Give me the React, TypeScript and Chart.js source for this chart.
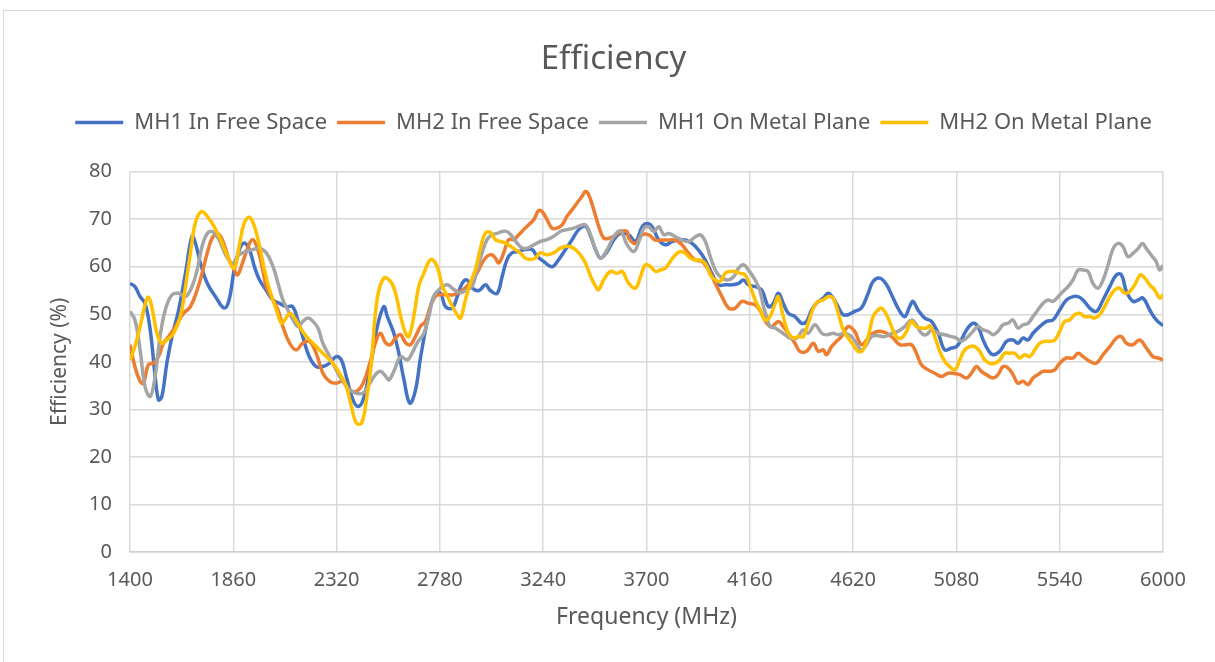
import React, { useEffect, useRef } from "react";
import { Chart, registerables } from "chart.js";

Chart.register(...registerables);

const chartTitle = "Efficiency";
const seriesNames = ["MH1 In Free Space", "MH2 In Free Space", "MH1 On Metal Plane", "MH2 On Metal Plane"];
const seriesColors = ["#4472C4", "#ED7D31", "#A5A5A5", "#FFC000"];
const xTickValues = [1400, 1860, 2320, 2780, 3240, 3700, 4160, 4620, 5080, 5540, 6000];
const yTickStep = 10;

const mh1FreeFreq = [1400,1422,1445,1467,1490,1512,1527,1542,1564,1587,1617,1647,1676,1691,1714,1744,1781,1819,1841,1864,1887,1909,1932,1954,1977,2007,2037,2066,2096,2124,2147,2169,2199,2229,2259,2289,2318,2341,2363,2393,2416,2438,2468,2498,2530,2546,2575,2597,2620,2646,2671,2694,2716,2738,2761,2783,2805,2835,2857,2879,2901,2924,2954,2983,3005,3035,3057,3079,3101,3131,3160,3190,3213,3242,3279,3309,3339,3369,3398,3428,3451,3473,3495,3525,3555,3584,3621,3651,3681,3703,3725,3755,3784,3814,3843,3873,3903,3932,3962,3991,4021,4051,4080,4110,4132,4154,4184,4213,4243,4265,4287,4309,4332,4361,4391,4413,4435,4457,4487,4509,4531,4553,4575,4598,4627,4657,4687,4709,4739,4769,4798,4828,4850,4872,4887,4909,4939,4969,4999,5028,5058,5080,5102,5125,5154,5176,5199,5221,5243,5273,5303,5332,5354,5377,5399,5421,5451,5481,5510,5540,5570,5599,5622,5644,5674,5703,5733,5763,5793,5815,5837,5866,5889,5911,5941,5970,6000];
const mh1FreeVals = [56.5,55.8,53.7,52.3,46.7,37,32,32.7,39.7,45.3,51,58.6,66.4,65,60.7,56.5,53.7,51.3,53,59.4,63.6,65,63.6,60,57.2,55,53,52.3,51.6,51.6,48.8,45.3,41,39,39,39.7,41.1,40.4,36.9,32,30.6,32,38.3,46.7,51.6,49.5,46,41.8,36.2,31.3,34,41,46.7,51.6,54.4,54.4,51.6,51.3,53.7,56.5,57.2,55.5,55,56.2,55,54.4,57.9,61.5,62.9,63.2,63.6,63.6,62.2,61.1,60,61.5,63.6,65.7,67.8,68.5,66.4,63.6,61.8,63.2,65.7,67,66.7,65.3,68.4,69.1,68.4,65.6,64.6,65.3,65.6,65.6,64.9,63.5,61.4,58.6,56.2,56.2,56.2,56.5,57.2,56.2,55.8,55.1,51.6,52.3,54.4,52.3,50.2,49.5,48.1,48.5,50.9,52.3,53.4,54.4,53.4,51.6,49.9,49.9,50.6,51.3,54.4,56.9,57.6,56.2,53.4,50.6,49.5,51.6,52.7,50.9,49.2,48.5,46,42.5,42.9,43.2,44.6,46.7,48.1,47.4,44.6,42.5,41.5,42.2,44.3,44.6,43.9,45,44.6,46,47.4,48.5,48.8,50.9,53,53.7,53.7,53,51.3,50.6,53,55.8,58.3,58.3,54.8,52.7,53,53.4,50.9,48.8,47.6];

const mh2FreeFreq = [1400,1422,1445,1460,1482,1505,1527,1549,1572,1602,1639,1669,1699,1721,1744,1766,1789,1811,1841,1864,1879,1901,1924,1946,1969,1991,2007,2029,2059,2081,2111,2140,2169,2199,2229,2259,2289,2318,2348,2378,2408,2438,2468,2493,2515,2538,2560,2582,2605,2627,2649,2671,2694,2716,2738,2761,2783,2813,2842,2872,2901,2924,2946,2968,2990,3012,3027,3042,3064,3086,3109,3131,3153,3175,3198,3220,3235,3257,3279,3301,3324,3346,3369,3391,3413,3428,3443,3465,3487,3510,3532,3555,3584,3614,3621,3651,3681,3710,3740,3769,3799,3829,3858,3888,3918,3947,3977,4006,4036,4066,4095,4125,4154,4184,4213,4235,4258,4287,4309,4332,4361,4383,4413,4443,4465,4487,4502,4524,4546,4568,4598,4627,4657,4687,4709,4739,4769,4798,4828,4858,4880,4902,4924,4954,4984,5013,5043,5073,5095,5125,5147,5169,5191,5213,5243,5265,5288,5310,5332,5354,5377,5399,5421,5443,5466,5495,5518,5540,5570,5599,5622,5644,5674,5703,5733,5763,5793,5815,5837,5866,5896,5926,5955,5978,6000];
const mh2FreeVals = [43.6,39,35.9,35.5,39.4,39.7,41.1,43.9,45.3,47.4,50.2,51.6,55.1,58.6,62.9,66,67,65.7,61.5,59.4,58.3,60.8,63.9,65.7,63.6,59.4,55.8,53.7,50.9,47.4,43.9,42.5,43.9,44.3,41.8,37.6,35.9,35.5,35.9,34.1,33.8,35.5,39.7,44,46,44,43.6,45,45.7,44,43.6,45.3,47.5,48.5,51.7,53.8,54.1,54.1,54.1,54.8,55.9,57.3,58.7,60.8,62.2,62.5,61.8,60.8,62.9,65.7,65.7,66.7,67.8,68.8,69.9,71.8,71.6,69.9,68.1,68.1,68.8,70.6,72,73.4,74.8,75.8,75.1,72,68.5,66,66,66.4,67.4,67.4,66,64.9,66.7,66.7,65.6,65.6,65.6,65.6,64.6,62.8,61.4,61.1,59.3,56.5,53.7,51.3,51.3,52.7,52.3,52,50.2,48.1,47.4,48.5,47.4,46,43.9,42.2,42.2,43.9,42.2,42.5,41.5,43.2,44.3,45.3,47.4,46.4,43.6,45,46,46.4,46,45,43.6,43.6,43.6,41.8,39.4,38.3,37.6,36.9,37.6,37.5,37.3,36.6,37.6,39,38,37.3,36.6,37.3,39,38.7,37.3,35.5,35.9,35.2,36.6,37.3,38,38,38.3,39.7,40.8,40.8,41.8,41.1,40.1,39.7,41.5,43.2,45,45.3,43.9,43.6,44.6,42.9,41.1,40.8,40.4];

const mh1MetalFreq = [1400,1422,1445,1467,1490,1512,1534,1557,1587,1617,1647,1676,1699,1721,1744,1766,1796,1826,1856,1886,1916,1946,1976,2007,2037,2059,2081,2103,2126,2148,2170,2193,2215,2237,2259,2289,2318,2348,2378,2408,2438,2468,2493,2515,2538,2553,2575,2605,2634,2656,2679,2709,2731,2753,2783,2813,2842,2872,2901,2924,2946,2968,2990,3012,3035,3057,3079,3101,3123,3146,3168,3198,3227,3257,3287,3316,3346,3376,3398,3428,3451,3473,3495,3525,3555,3584,3614,3644,3666,3688,3710,3732,3755,3777,3799,3829,3858,3888,3918,3940,3962,3984,4006,4028,4058,4088,4110,4132,4154,4184,4206,4221,4235,4250,4273,4295,4317,4339,4369,4398,4420,4450,4480,4502,4531,4554,4583,4613,4635,4657,4679,4702,4731,4761,4791,4820,4850,4880,4902,4924,4947,4969,4999,5028,5058,5080,5102,5125,5154,5176,5199,5221,5243,5265,5288,5310,5332,5354,5377,5399,5421,5443,5466,5488,5510,5533,5555,5577,5599,5622,5644,5666,5688,5711,5733,5755,5778,5800,5822,5844,5866,5889,5908,5926,5948,5970,5985,6000];
const mh1MetalVals = [50.6,48.8,42.5,34.8,32.7,37,45.3,50.9,54.1,54.4,53.7,55.8,59.3,64.3,67,67.4,65.7,62.5,60.7,62.5,63.2,63.6,63.9,62.9,60,56.5,53,50.9,48.8,47.4,48.5,49.2,48.5,47.1,43.9,41.1,38.3,35.9,34.1,33.4,33.4,35.5,37.3,38,37,36.2,38,41.1,40.4,41.8,44,46,49.6,53.8,55.5,56.2,55.2,54.5,55.2,55.9,59.4,62.9,65.7,66.7,67,67.4,67.4,66.4,65,63.9,63.9,64.6,65.3,65.7,66.4,67.4,67.8,68.1,68.5,68.8,66.7,63.6,61.8,63.6,66.4,67.5,64.6,63.2,65.3,68.1,68.4,67.4,68.4,66.7,67,66.3,65.6,65.3,66.3,66.7,65.3,62.1,59.3,57.9,57.2,57.9,59.7,60.4,59.3,57.2,54.8,51.6,49.5,47.4,47.1,46.4,45.7,45,45,46.7,46,47.8,46,45.7,46,45.7,46,45.3,43.9,42.5,43.6,45.3,45.5,45.3,46,46.4,47.4,48.8,47.8,46,45.7,46.7,46,45.7,45.3,45,44.3,45,46.4,47.4,46.7,46.4,45.7,46.4,47.8,48.1,48.8,47.1,47.8,48.1,49.5,50.9,52.3,53,52.7,53.7,54.8,55.8,57.2,59.3,59.3,59,56.5,55.5,57.2,60.3,63.8,64.9,64.2,62.1,62.8,63.8,64.9,63.8,62.4,61,59.3,60.3];

const mh2MetalFreq = [1400,1422,1445,1467,1482,1497,1520,1542,1564,1594,1624,1647,1669,1691,1718,1744,1774,1804,1834,1864,1886,1909,1932,1954,1977,1999,2022,2052,2074,2089,2111,2133,2155,2185,2215,2244,2274,2304,2333,2363,2386,2408,2431,2453,2472,2500,2530,2560,2582,2605,2627,2642,2664,2686,2709,2731,2746,2768,2791,2813,2835,2857,2872,2894,2916,2938,2961,2983,3005,3027,3049,3072,3094,3116,3138,3160,3183,3205,3227,3257,3287,3316,3346,3376,3405,3428,3451,3473,3487,3510,3540,3569,3592,3621,3651,3673,3695,3718,3740,3762,3784,3806,3829,3851,3873,3895,3918,3940,3962,3984,4006,4028,4051,4073,4095,4117,4139,4162,4184,4206,4228,4250,4273,4287,4309,4332,4354,4376,4398,4420,4443,4465,4487,4509,4531,4554,4576,4598,4620,4642,4664,4687,4709,4731,4746,4769,4791,4813,4835,4858,4880,4902,4924,4947,4962,4984,5006,5028,5050,5073,5095,5117,5139,5162,5184,5206,5228,5251,5273,5295,5317,5340,5362,5384,5406,5429,5451,5473,5495,5518,5540,5562,5585,5607,5629,5651,5674,5696,5718,5740,5763,5785,5807,5830,5852,5874,5899,5919,5941,5963,5985,6000];
const mh2MetalVals = [40.4,43.2,47.4,52,53.6,51.6,46,43.9,44.6,46,49.5,55.8,62.9,69.2,71.6,70.6,68.5,65.7,62.2,59.7,64.3,69.2,70.4,68.5,64.3,59.3,55.1,50.9,48.1,48.8,50.2,49.2,47.4,45.3,43.9,42.5,41.1,39.7,37.6,34.8,30.6,27.1,27.1,32,38.5,53,57.6,56.9,54.5,49.6,46,45.3,49.6,55.9,58.7,61.1,61.5,60,55.9,53.8,51.7,49.9,49.2,53.1,56.6,59.4,63.9,67.1,67.2,65.7,65.3,65,64.3,63.6,62.9,61.8,61.5,61.8,62.9,62.5,62.9,63.9,64.3,63.9,62.5,60.8,58,55.9,55.2,57.3,59,58.6,59,56.5,55.5,57.9,60.4,60,59,59.3,59.7,61.1,62.5,63.2,62.8,61.8,61.4,61.4,60.7,58.3,57.2,56.9,58.6,59,59,58.6,58.3,55.8,53,50.9,48.8,49.5,52.3,53.7,49.5,46,45,45.3,45.3,48.1,51.3,52.7,53,53.7,53.4,50.2,46.7,45,43.6,42.2,42.5,45.3,49.5,50.9,51.3,49.9,47.4,45.3,45,46.4,48.5,47.4,47.1,47.1,47.6,45.3,42.2,40.1,39,38.3,40.4,42.5,43.2,43.2,42.2,40.4,39.7,39.7,40.4,41.8,41.8,41.8,40.8,41.5,41.1,42.5,43.9,44.3,44.3,44.6,46.4,48.5,48.8,49.9,50.2,49.5,49.5,49.2,49.9,51.6,53.7,55.1,55.5,54.4,54.8,56.2,58.3,57.6,56.2,55.1,53.4,54.1];

const xAxisTitle = "Frequency (MHz)";
const yAxisTitle = "Efficiency (%)";

const FONT = "'Noto Sans', sans-serif";
const TEXT = "#595959";

export default function App() {
  const canvasRef = useRef<HTMLCanvasElement>(null);

  useEffect(() => {
    if (!canvasRef.current) return;
    const toPoints = (f: number[], v: number[]) => f.map((x, i) => ({ x, y: v[i] }));
    const freqs = [mh1FreeFreq, mh2FreeFreq, mh1MetalFreq, mh2MetalFreq];
    const vals = [mh1FreeVals, mh2FreeVals, mh1MetalVals, mh2MetalVals];

    const legendSpacer = {
      id: "legendSpacer",
      beforeInit(chart: any) {
        const lg = chart.legend;
        if (!lg) return;
        const origFit = lg.fit;
        lg.fit = function () {
          origFit.bind(lg)();
          this.height += 28;
        };
      },
    };

    const chart = new Chart(canvasRef.current, {
      type: "line",
      data: {
        datasets: seriesNames.map((name, i) => ({
          label: name,
          data: toPoints(freqs[i], vals[i]),
          borderColor: seriesColors[i],
          backgroundColor: seriesColors[i],
          borderWidth: 3.5,
          pointRadius: 0,
          pointHoverRadius: 0,
          tension: 0.4,
          fill: false,
          order: seriesNames.length - i,
        })),
      },
      options: {
        animation: false,
        responsive: false,
        events: [],
        layout: { padding: { left: 12, right: 0, top: 0, bottom: 0 } },
        plugins: {
          title: {
            display: true,
            text: chartTitle,
            color: TEXT,
            font: { family: FONT, size: 33, weight: "normal" },
            padding: { top: 40, bottom: 22 },
          },
          legend: {
            display: true,
            position: "top",
            labels: {
              color: TEXT,
              font: { family: FONT, size: 22 },
              usePointStyle: true,
              pointStyle: "line",
              pointStyleWidth: 48,
              padding: 10,
              sort: (a: any, b: any) => a.datasetIndex - b.datasetIndex,
            },
          },
          tooltip: { enabled: false },
        },
        scales: {
          x: {
            type: "linear",
            min: 1400,
            max: 6000,
            afterBuildTicks: (scale: any) => {
              scale.ticks = xTickValues.map((v) => ({ value: v }));
            },
            afterFit: (scale: any) => {
              scale.height = 110;
            },
            ticks: {
              color: TEXT,
              font: { family: FONT, size: 20 },
              padding: 16,
              maxRotation: 0,
              autoSkip: false,
              callback: (v: any) => String(v),
            },
            grid: { color: "#d9d9d9", lineWidth: 1.5, drawTicks: false },
            border: { display: true, color: "#cfcfcf", width: 1.5 },
            title: {
              display: true,
              text: xAxisTitle,
              color: TEXT,
              font: { family: FONT, size: 23 },
              padding: { top: 0, bottom: 31 },
            },
          },
          y: {
            min: 0,
            max: 80,
            afterFit: (scale: any) => {
              scale.width = 118;
            },
            ticks: {
              stepSize: yTickStep,
              color: TEXT,
              font: { family: FONT, size: 20 },
              padding: 18,
            },
            grid: { color: "#d9d9d9", lineWidth: 1.5, drawTicks: false },
            border: { display: false },
            title: {
              display: true,
              text: yAxisTitle,
              color: TEXT,
              font: { family: FONT, size: 21 },
              padding: { top: 35, bottom: 0 },
            },
          },
          yRight: {
            position: "right",
            min: 0,
            max: 80,
            display: true,
            afterFit: (scale: any) => {
              scale.width = 52;
            },
            ticks: { display: false },
            grid: { display: false, drawOnChartArea: false, drawTicks: false },
            border: { display: false },
            title: { display: false },
          },
        },
      },
      plugins: [legendSpacer],
    } as any);

    return () => chart.destroy();
  }, []);

  return (
    <div style={{ position: "fixed", left: 0, top: 0, width: 1215, height: 662, background: "#fff", overflow: "hidden" }}>
      <canvas ref={canvasRef} width={1215} height={662} style={{ position: "absolute", left: 0, top: 0, width: 1215, height: 662 }} />
      <div
        style={{
          position: "absolute",
          left: 3,
          top: 10,
          width: 1220,
          height: 670,
          borderLeft: "1px solid #d9d9d9",
          borderTop: "1px solid #d9d9d9",
          pointerEvents: "none",
        }}
      />
    </div>
  );
}
